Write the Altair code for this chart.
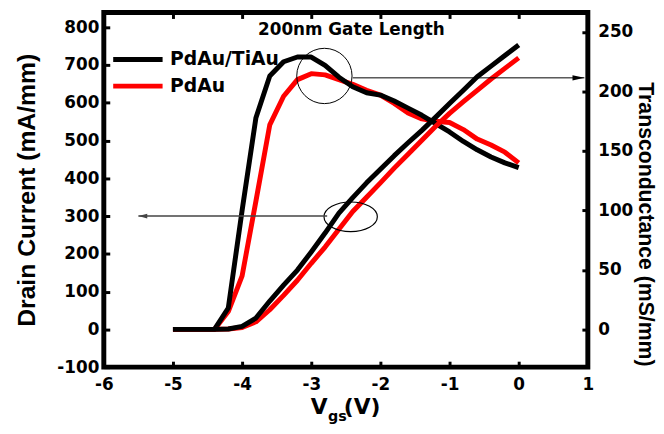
import altair as alt
import pandas as pd

# ---------------- data ----------------
vgs = [-5.0, -4.8, -4.6, -4.4, -4.2, -4.0, -3.8, -3.6, -3.4, -3.2, -3.0, -2.8, -2.6,
       -2.4, -2.2, -2.0, -1.8, -1.6, -1.4, -1.2, -1.0, -0.8, -0.6, -0.4, -0.2, 0.0]
drain_pdau_tiau = [0, 0, 0, 0, 1, 8, 30, 75, 117, 157, 205, 255, 308,
                   349, 388, 424, 460, 494, 527, 562, 598, 633, 669, 697, 725, 753]
drain_pdau = [0, 0, 0, 0, 1, 5, 20, 52, 90, 130, 175, 218, 265,
              312, 350, 388, 427, 464, 501, 538, 572, 603, 633, 663, 691, 719]
gm_pdau_tiau = [0, 0, 0, 0, 18, 100, 178, 213, 225, 229, 229, 222, 212,
                204, 199, 197, 192, 186, 180, 173, 166, 158, 151, 145, 140, 136]
gm_pdau = [0, 0, 0, 0, 15, 45, 108, 172, 196, 210, 215, 214, 210,
           206, 201, 197, 190, 182, 177, 175, 174, 168, 160, 155, 149, 140]
devices = ["PdAu/TiAu", "PdAu"]
device_colors = ["#000000", "#ff0000"]

x_ticks = [-6, -5, -4, -3, -2, -1, 0, 1]
left_ticks = [-100, 0, 100, 200, 300, 400, 500, 600, 700, 800]
right_ticks = [0, 50, 100, 150, 200, 250]

note_text = ["200nm Gate Length"]
note_v = [-2.42]
note_i = [793]
circle_v = [-2.81]
circle_i = [671]
ellipse_v = [-2.43]
ellipse_i = [298]
arrow_r_v = [-2.40]
arrow_r_v2 = [0.95]
arrow_r_i = [666]
arrow_l_v = [-2.77]
arrow_l_v2 = [-5.5]
arrow_l_i = [300]

n = len(vgs)
# PdAu rows first so that the black PdAu/TiAu curves are drawn on top, as in the reference
df = pd.DataFrame({
    "vgs": vgs + vgs,
    "device": [devices[1]] * n + [devices[0]] * n,
    "drain": drain_pdau + drain_pdau_tiau,
    "gm": gm_pdau + gm_pdau_tiau,
})

x_scale = alt.Scale(domain=[-6, 1], nice=False, zero=False)
y_left = alt.Scale(domain=[-100, 839], nice=False, zero=False)
y_right = alt.Scale(domain=[-31.7, 266.4], nice=False, zero=False)
color_scale = alt.Scale(domain=devices, range=device_colors)

legend = alt.Legend(orient="none", legendX=7, legendY=34, title=None, direction="vertical",
                    symbolType="stroke", symbolSize=2500, symbolStrokeWidth=5,
                    labelFont="DejaVu Sans", labelFontSize=19, labelFontWeight="bold",
                    labelColor="black", labelOffset=5, clipHeight=27, rowPadding=0, padding=0)

plain_label = "'' + datum.value"

x_bottom_axis = alt.Axis(orient="bottom", values=x_ticks, offset=-6, tickSize=6, tickWidth=3,
                         tickColor="black", domain=False, grid=False, labelPadding=10,
                         labelFlush=False, labelExpr=plain_label,
                         labelFont="DejaVu Sans", labelFontSize=17, labelFontWeight="bold",
                         labelColor="black", title=None)
x_top_axis = alt.Axis(orient="top", values=x_ticks, offset=-6, tickSize=6, tickWidth=3,
                      tickColor="black", domain=False, grid=False, labels=False, title=None)
left_axis = alt.Axis(orient="left", values=left_ticks, offset=-6, tickSize=6, tickWidth=3,
                     tickColor="black", domain=False, grid=False, labelPadding=5,
                     labelExpr=plain_label,
                     labelFont="DejaVu Sans", labelFontSize=17, labelFontWeight="bold",
                     labelColor="black", title="Drain Current (mA/mm)",
                     titleFont="Liberation Sans", titleFontSize=25, titleFontWeight="bold",
                     titleColor="black", titlePadding=18)
right_axis = alt.Axis(orient="right", values=right_ticks, offset=-6, tickSize=6, tickWidth=3,
                      tickColor="black", domain=False, grid=False, labelPadding=10,
                      labelExpr=plain_label,
                      labelFont="DejaVu Sans", labelFontSize=17, labelFontWeight="bold",
                      labelColor="black", title="Transconductance (mS/mm)",
                      titleFont="Liberation Sans", titleFontSize=21.5, titleFontWeight="bold",
                      titleColor="black", titlePadding=1, titleY=214)

base = alt.Chart(df)
gm = base.mark_line(strokeWidth=5, strokeJoin="round").encode(
    x=alt.X("vgs:Q", scale=x_scale, axis=None),
    y=alt.Y("gm:Q", scale=y_right, axis=right_axis),
    color=alt.Color("device:N", scale=color_scale, legend=legend),
)
drain = base.mark_line(strokeWidth=5, strokeJoin="round").encode(
    x=alt.X("vgs:Q", scale=x_scale, axis=x_bottom_axis),
    y=alt.Y("drain:Q", scale=y_left, axis=left_axis),
    color=alt.Color("device:N", scale=color_scale, legend=legend),
)

note = alt.Chart(pd.DataFrame({"v": note_v, "i": note_i, "t": note_text})).mark_text(
    font="DejaVu Sans", fontSize=17, fontWeight="bold", color="black",
    align="center", baseline="middle").encode(
    x=alt.X("v:Q", scale=x_scale, axis=x_top_axis),
    y=alt.Y("i:Q", scale=y_left, axis=None), text="t:N")

circle = alt.Chart(pd.DataFrame({"v": circle_v, "i": circle_i})).mark_point(
    shape="circle", size=3136, filled=False, stroke="black", strokeWidth=1, opacity=1).encode(
    x=alt.X("v:Q", scale=x_scale, axis=None), y=alt.Y("i:Q", scale=y_left, axis=None))

ellipse = alt.Chart(pd.DataFrame({"v": ellipse_v, "i": ellipse_i})).mark_point(
    shape="M -1 0 A 1 0.556 0 1 1 1 0 A 1 0.556 0 1 1 -1 0 Z", size=2916, filled=False,
    stroke="black", strokeWidth=1.2, opacity=1).encode(
    x=alt.X("v:Q", scale=x_scale, axis=None), y=alt.Y("i:Q", scale=y_left, axis=None))

arrow_r = alt.Chart(pd.DataFrame({"v": arrow_r_v, "v2": arrow_r_v2, "i": arrow_r_i})).mark_rule(
    color="black", strokeWidth=1).encode(
    x=alt.X("v:Q", scale=x_scale, axis=None), x2="v2:Q",
    y=alt.Y("i:Q", scale=y_left, axis=None))
head_r = alt.Chart(pd.DataFrame({"v": arrow_r_v2, "i": arrow_r_i})).mark_point(
    shape="M 0 0 L -1 -0.22 L -1 0.22 Z", size=576, filled=True, color="black", opacity=1).encode(
    x=alt.X("v:Q", scale=x_scale, axis=None), y=alt.Y("i:Q", scale=y_left, axis=None))

arrow_l = alt.Chart(pd.DataFrame({"v": arrow_l_v, "v2": arrow_l_v2, "i": arrow_l_i})).mark_rule(
    color="#444444", strokeWidth=1.5).encode(
    x=alt.X("v:Q", scale=x_scale, axis=None), x2="v2:Q",
    y=alt.Y("i:Q", scale=y_left, axis=None))
head_l = alt.Chart(pd.DataFrame({"v": arrow_l_v2, "i": arrow_l_i})).mark_point(
    shape="M 0 0 L 1 -0.27 L 1 0.27 Z", size=324, filled=True, color="#444444", opacity=1).encode(
    x=alt.X("v:Q", scale=x_scale, axis=None), y=alt.Y("i:Q", scale=y_left, axis=None))


def title_piece(txt, xpx, ypx, size, align):
    return alt.Chart(pd.DataFrame({"t": [txt]})).mark_text(
        font="DejaVu Sans", fontSize=size, fontWeight="bold", color="black",
        align=align, baseline="alphabetic").encode(
        x=alt.value(xpx), y=alt.value(ypx), text="t:N")


xt_v = title_piece("V", 218, 406, 22, "center")
xt_gs = title_piece("gs", 227, 414, 14.5, "left")
xt_unit = title_piece("(V)", 243, 406, 22, "left")

chart = alt.layer(
    gm, drain, note, circle, ellipse, arrow_r, head_r, arrow_l, head_l, xt_v, xt_gs, xt_unit
).resolve_scale(y="independent").resolve_axis(x="independent").properties(
    width=490, height=359,
    autosize=alt.AutoSizeParams(type="none"),
    padding={"left": 97, "top": 2, "right": 69, "bottom": 56},
    background="white",
).configure_view(stroke="black", strokeWidth=5)

chart.save("out.html", embed_options={"renderer": "svg", "actions": False})
